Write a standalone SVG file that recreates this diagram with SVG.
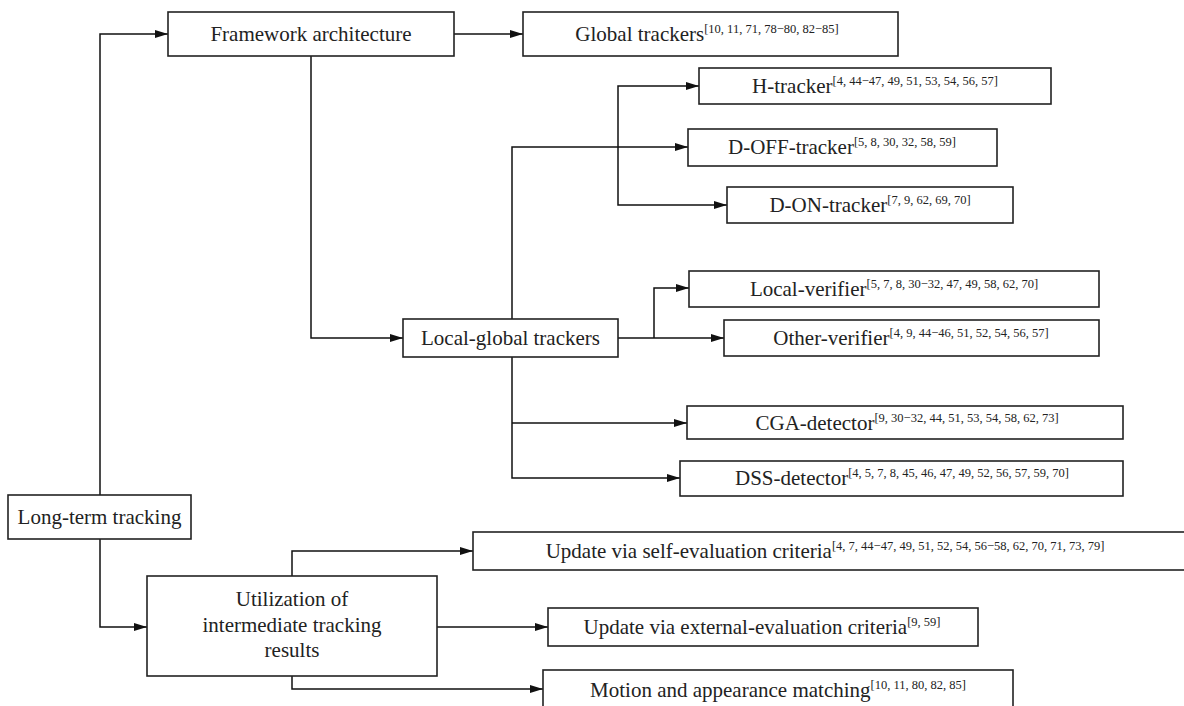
<svg xmlns="http://www.w3.org/2000/svg" width="1184" height="706" viewBox="0 0 1184 706">
<style>
.box{fill:#fff;stroke:#222;stroke-width:1.6}
.t{font-family:'Liberation Serif','Times New Roman','DejaVu Serif',serif;font-size:21px;fill:#222;text-anchor:middle}
.s{font-size:12.5px}
.c{fill:none;stroke:#111;stroke-width:1.5;marker-end:url(#ah)}
</style>
<defs>
<marker id="ah" markerUnits="userSpaceOnUse" markerWidth="13" markerHeight="9" refX="13" refY="4.5" orient="auto">
<path d="M0,0.5 L13,4.5 L0,8.5 z" fill="#111"/>
</marker>
</defs>
<rect width="1184" height="706" fill="#fff"/>
<g id="connectors">
<path class="c" d="M100,495 V34 H168"/>
<path class="c" d="M100,539 V627 H147"/>
<path class="c" d="M454,34 H523"/>
<path class="c" d="M311,56 V338 H403"/>
<path class="c" d="M512,319 V147 H688"/>
<path class="c" d="M618,147 V86 H699"/>
<path class="c" d="M618,147 V205 H727"/>
<path class="c" d="M618,338 H724"/>
<path class="c" d="M654,338 V288 H689"/>
<path class="c" d="M512,357 V478 H680"/>
<path class="c" d="M512,423 H687"/>
<path class="c" d="M292,576 V551 H473"/>
<path class="c" d="M437,627 H548"/>
<path class="c" d="M292,676 V689 H543"/>
</g>
<g id="framework"><rect class="box" x="168" y="12" width="286" height="44"/><text class="t" x="311" y="41">Framework architecture</text></g>
<g id="global"><rect class="box" x="523" y="12" width="375" height="44"/><text class="t" x="707" y="41">Global trackers<tspan class="s" dy="-8">[10, 11, 71, 78−80, 82−85]</tspan></text></g>
<g id="htracker"><rect class="box" x="699" y="68" width="352" height="36"/><text class="t" x="875" y="93">H-tracker<tspan class="s" dy="-8">[4, 44−47, 49, 51, 53, 54, 56, 57]</tspan></text></g>
<g id="dofftracker"><rect class="box" x="688" y="129" width="309" height="37"/><text class="t" x="842" y="154">D-OFF-tracker<tspan class="s" dy="-8">[5, 8, 30, 32, 58, 59]</tspan></text></g>
<g id="dontracker"><rect class="box" x="727" y="187" width="286" height="36"/><text class="t" x="870" y="212">D-ON-tracker<tspan class="s" dy="-8">[7, 9, 62, 69, 70]</tspan></text></g>
<g id="localglobal"><rect class="box" x="403" y="319" width="215" height="38"/><text class="t" x="510.5" y="345">Local-global trackers</text></g>
<g id="localverifier"><rect class="box" x="689" y="271" width="410" height="36"/><text class="t" x="894" y="296">Local-verifier<tspan class="s" dy="-8">[5, 7, 8, 30−32, 47, 49, 58, 62, 70]</tspan></text></g>
<g id="otherverifier"><rect class="box" x="724" y="320" width="375" height="36"/><text class="t" x="911" y="345">Other-verifier<tspan class="s" dy="-8">[4, 9, 44−46, 51, 52, 54, 56, 57]</tspan></text></g>
<g id="cgadetector"><rect class="box" x="687" y="406" width="436" height="33"/><text class="t" x="907" y="430">CGA-detector<tspan class="s" dy="-8">[9, 30−32, 44, 51, 53, 54, 58, 62, 73]</tspan></text></g>
<g id="dssdetector"><rect class="box" x="680" y="461" width="443" height="35"/><text class="t" x="902" y="485">DSS-detector<tspan class="s" dy="-8">[4, 5, 7, 8, 45, 46, 47, 49, 52, 56, 57, 59, 70]</tspan></text></g>
<g id="longterm"><rect class="box" x="8" y="495" width="183" height="44"/><text class="t" x="99.5" y="524">Long-term tracking</text></g>
<g id="utilization"><rect class="box" x="147" y="576" width="290" height="100"/><text class="t" x="292" y="606">Utilization of</text><text class="t" x="292" y="632">intermediate tracking</text><text class="t" x="292" y="657">results</text></g>
<g id="selfeval"><rect class="box" x="473" y="532" width="720" height="38"/><text class="t" x="825" y="558">Update via self-evaluation criteria<tspan class="s" dy="-8">[4, 7, 44−47, 49, 51, 52, 54, 56−58, 62, 70, 71, 73, 79]</tspan></text></g>
<g id="exteval"><rect class="box" x="548" y="608" width="430" height="38"/><text class="t" x="762" y="634">Update via external-evaluation criteria<tspan class="s" dy="-8">[9, 59]</tspan></text></g>
<g id="motion"><rect class="box" x="543" y="670" width="470" height="50"/><text class="t" x="778" y="697">Motion and appearance matching<tspan class="s" dy="-8">[10, 11, 80, 82, 85]</tspan></text></g>
</svg>
